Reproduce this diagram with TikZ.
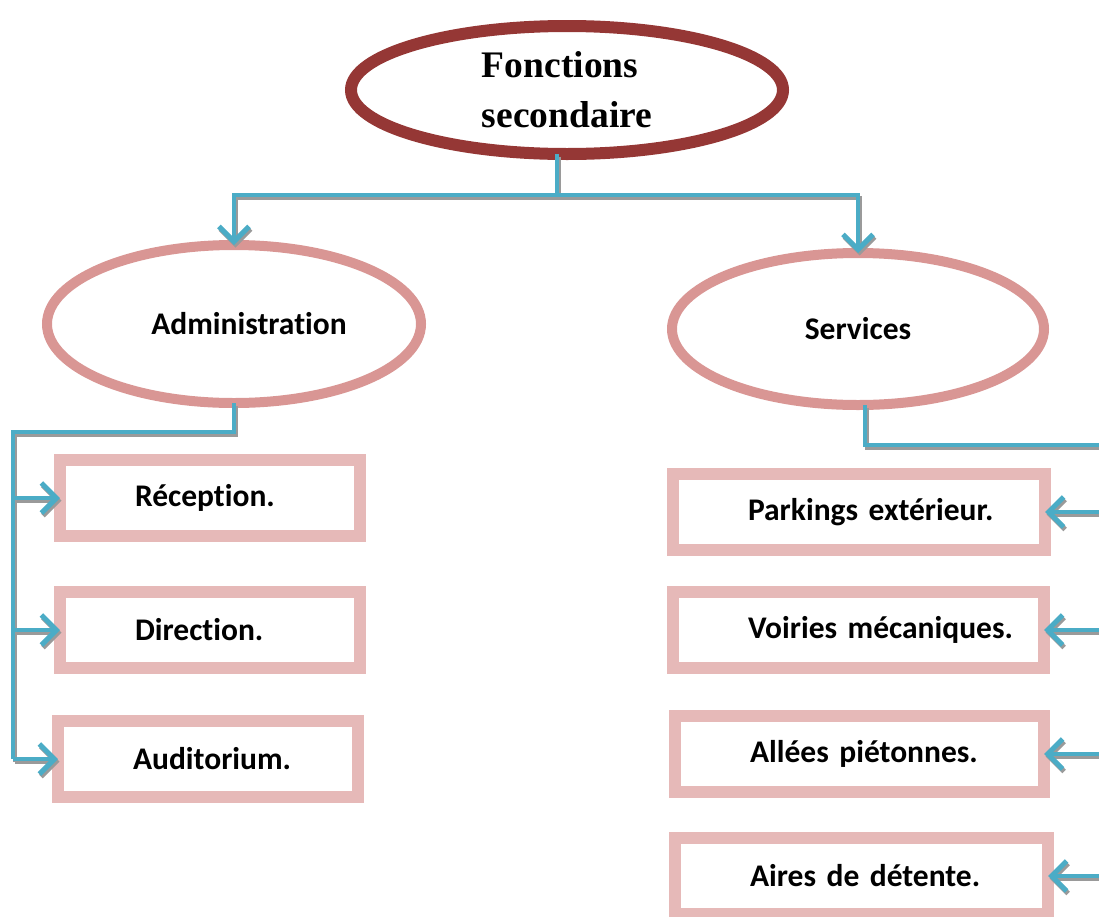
\documentclass[tikz,border=0pt]{standalone}
\usepackage{fontspec}
\newfontfamily\calib[Ligatures=NoCommon]{Carlito}
\newfontfamily\timesf{Liberation Serif}
\usetikzlibrary{shapes.geometric,arrows.meta}

\definecolor{darkred}{HTML}{953735}
\definecolor{ellpink}{HTML}{D99694}
\definecolor{boxpink}{HTML}{E6B9B8}
\definecolor{linkblue}{HTML}{4BACC6}
\definecolor{shadowgray}{HTML}{9A9A9A}

\begin{document}
\begin{tikzpicture}[x=1pt,y=-1pt,
  ell/.style={ellipse, draw=ellpink, line width=10pt, inner sep=0pt, outer sep=0pt,
    font=\calib\bfseries\fontsize{31.5}{36}\selectfont},
  box/.style={rectangle, draw=boxpink, line width=12pt, inner sep=0pt, outer sep=0pt,
    minimum height=76pt, align=left, font=\calib\bfseries\fontsize{31.5}{36}\selectfont,
    execute at begin node={\hspace*{75pt}}},
  link/.style={line width=4pt},
  arr/.style={link, -{Straight Barb[length=15pt,width=30pt,line width=5pt]}}]
\useasboundingbox (0,0) rectangle (1099,916);

% main ellipse
\node[ellipse, draw=darkred, line width=12pt, inner sep=0pt, outer sep=0pt,
  minimum width=432pt, minimum height=128pt, align=left,
  font=\timesf\bfseries\fontsize{37.5}{50}\selectfont] (fonc) at (567,90) {Fonctions\\secondaire};

% two branches
\node[ell, minimum width=374pt, minimum height=158pt] (admin) at (234,324) {\hspace*{30pt}Administration};
\node[ell, minimum width=372pt, minimum height=152pt] (serv) at (858,329) {Services};

% left boxes
\node[box, text width=300pt] (recep) at (210,498) {Réception.};
\node[box, text width=300pt] (direc) at (210,630) {Direction.};
\node[box, text width=300pt] (audit) at (208,759) {Auditorium.};

% right boxes
\node[box, text width=372pt] (park) at (859,512) {Parkings extérieur.};
\node[box, text width=371pt] (voir) at (858.5,630) {Voiries mécaniques.};
\node[box, text width=369pt] (allee) at (859.5,754) {Allées piétonnes.};
\node[box, text width=373pt] (aire) at (861.5,876) {Aires de détente.};

% connectors (gray shadow first, then blue)
\coordinate (hub) at (557,195);
\coordinate (spineL) at (13,432);
\coordinate (spineR) at (1110,445);

\foreach \sx/\sy/\col in {1.5/-2.5/shadowgray, 0/0/linkblue}{
\begin{scope}[transform canvas={shift={(\sx pt,\sy pt)}}, every path/.append style={draw=\col}]
  \draw[link] (fonc.south -| hub) -- (hub);
  \draw[arr] (hub) -| (admin.north);
  \draw[arr] (hub) -| (serv.north);

  \draw[link] (admin.south) |- (spineL) -- (spineL |- audit.west);
  \foreach \b in {recep,direc,audit}
    \draw[arr] (spineL |- \b.west) -- (\b.west);

  \draw[link] ([xshift=7pt]serv.south) |- (spineR);
  \foreach \b in {park,voir,allee,aire}
    \draw[arr] (spineR |- \b.east) -- (\b.east);
\end{scope}}
\end{tikzpicture}
\end{document}
